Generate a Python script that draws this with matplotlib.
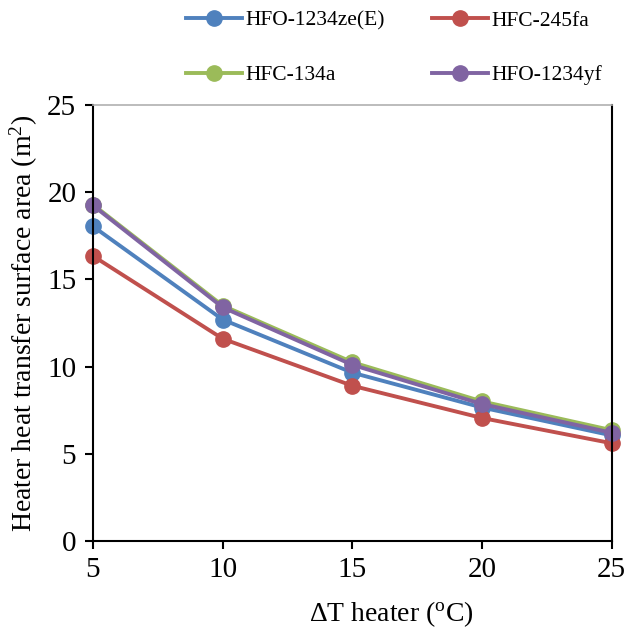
import matplotlib
matplotlib.use("Agg")
import matplotlib.pyplot as plt

plt.rcParams["font.family"] = ["Liberation Serif", "DejaVu Serif"]
plt.rcParams["mathtext.fontset"] = "custom"
plt.rcParams["mathtext.rm"] = "Liberation Serif"
plt.rcParams["mathtext.it"] = "Liberation Serif:italic"

# data
delta_t = [5, 10, 15, 20, 25]
hfo_1234ze = [18.05, 12.7, 9.65, 7.65, 6.05]
hfc_245fa = [16.35, 11.6, 8.9, 7.05, 5.6]
hfc_134a = [19.3, 13.5, 10.25, 8.0, 6.35]
hfo_1234yf = [19.25, 13.4, 10.1, 7.85, 6.2]

series = [
    ("HFO-1234ze(E)", hfo_1234ze, "#4F81BD"),
    ("HFC-245fa", hfc_245fa, "#C0504D"),
    ("HFC-134a", hfc_134a, "#9BBB59"),
    ("HFO-1234yf", hfo_1234yf, "#8064A2"),
]

fig = plt.figure(figsize=(6.28, 6.34), dpi=100)
ax = fig.add_axes([0.148, 0.147, 0.826, 0.687])

handles = []
for label, vals, color in series:
    h, = ax.plot(delta_t, vals, color=color, lw=2.8, marker="o", ms=11,
                 label=label, clip_on=False)
    handles.append(h)

ax.set_xlim(5, 25)
ax.set_ylim(0, 25)
ax.set_xticks([5, 10, 15, 20, 25])
ax.set_yticks([0, 5, 10, 15, 20, 25])
ax.tick_params(direction="out", length=6, width=1.5, labelsize=21, pad=6)

for side in ["left", "bottom", "right"]:
    ax.spines[side].set_linewidth(1.5)
    ax.spines[side].set_color("black")
ax.spines["top"].set_color("#b0b0b0")
ax.spines["top"].set_linewidth(1.2)

ax.set_xlabel(r"$\Delta$T heater ($^{\rm o}$C)", fontsize=20, labelpad=12)
ax.xaxis.set_label_coords(0.575, -0.135)
ax.set_ylabel(r"Heater heat transfer surface area (m$^{\rm 2}$)", fontsize=20, labelpad=5)

# legend filled row by row, as in the reference
order = [0, 2, 1, 3]
fig.legend([handles[i] for i in order], [series[i][0] for i in order],
           loc="upper left", bbox_to_anchor=(0.29, 0.99), ncol=2, frameon=False,
           fontsize=15.5, handlelength=2.6, handletextpad=0.15, columnspacing=2.2,
           labelspacing=1.6, borderaxespad=0.0, borderpad=0.2)

fig.savefig("out.png", dpi=100)
